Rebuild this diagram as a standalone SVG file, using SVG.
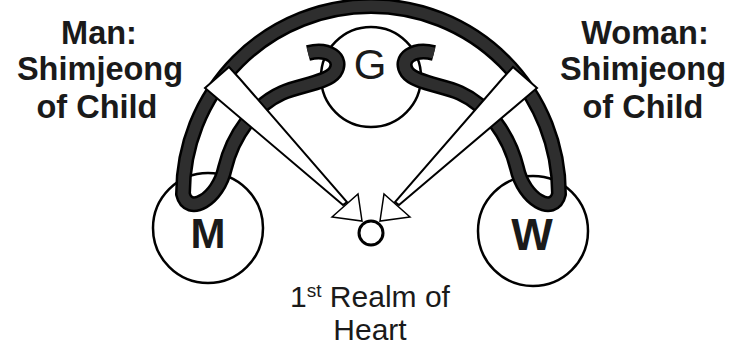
<svg xmlns="http://www.w3.org/2000/svg" width="735" height="346" viewBox="0 0 735 346">
<style>
.node{fill:#fff;stroke:#000;stroke-width:2.5}
.bandOut{fill:none;stroke:#000;stroke-width:16;stroke-linecap:butt;stroke-linejoin:round}
.bandIn{fill:none;stroke:#2e2e2e;stroke-width:11;stroke-linecap:butt;stroke-linejoin:round}
.wedge{fill:#fff;stroke:#000;stroke-width:2;stroke-linejoin:miter}
.head{fill:#fff;stroke:#000;stroke-width:1.5}
.lbl{font-family:"Liberation Sans",Arial,sans-serif;font-weight:bold;font-size:32.5px;fill:#1a1a1a;text-anchor:middle}
.cap{font-family:"Liberation Sans",Arial,sans-serif;font-size:30px;fill:#1a1a1a;text-anchor:middle}
</style>
<rect width="735" height="346" fill="#fff"/>
<g id="node-G"><circle class="node" cx="371" cy="77" r="50"/></g>
<g id="node-M"><circle class="node" cx="208" cy="228" r="55"/></g>
<g id="node-W"><circle class="node" cx="533" cy="231" r="55"/></g>
<g id="connectors">
<path id="band-outline" class="bandOut" d="M 308 53 C 328 48, 344 58, 335 72 C 327 83, 300 85, 282 93 C 255 105, 233 135, 225 168 C 218 200, 188 216, 183 194 A 188 188 0 0 1 559 194 C 554 216, 524 200, 517 168 C 509 135, 487 105, 460 93 C 442 85, 415 83, 407 72 C 398 58, 414 48, 434 53"/>
<path id="band" class="bandIn" d="M 308 53 C 328 48, 344 58, 335 72 C 327 83, 300 85, 282 93 C 255 105, 233 135, 225 168 C 218 200, 188 216, 183 194 A 188 188 0 0 1 559 194 C 554 216, 524 200, 517 168 C 509 135, 487 105, 460 93 C 442 85, 415 83, 407 72 C 398 58, 414 48, 434 53"/>
<polygon id="wedge-left" class="wedge" points="205,88 229,67 240,79 347,202 343,205"/>
<polygon id="wedge-right" class="wedge" points="537,88 513,67 502,79 395,202 399,205"/>
<polygon id="head-left" class="head" points="332,217 358,194 362,221"/>
<polygon id="head-right" class="head" points="410,217 384,194 380,221"/>
</g>
<g id="node-heart"><circle cx="371" cy="233" r="12" fill="#fff" stroke="#000" stroke-width="3"/></g>
<g id="labels">
<text class="cap" x="370" y="79" style="font-size:42px">G</text>
<text class="lbl" x="208" y="248" style="font-size:42px">M</text>
<text class="lbl" x="532" y="250" style="font-size:44px">W</text>
<text class="lbl" x="99" y="44">Man:</text>
<text class="lbl" x="100" y="80">Shimjeong</text>
<text class="lbl" x="97" y="118">of Child</text>
<text class="lbl" x="645" y="44">Woman:</text>
<text class="lbl" x="643" y="80">Shimjeong</text>
<text class="lbl" x="643" y="118">of Child</text>
<text class="cap" x="370" y="307">1<tspan dy="-10" style="font-size:19px">st</tspan><tspan dy="10"> Realm of</tspan></text>
<text class="cap" x="370" y="340">Heart</text>
</g>
</svg>
